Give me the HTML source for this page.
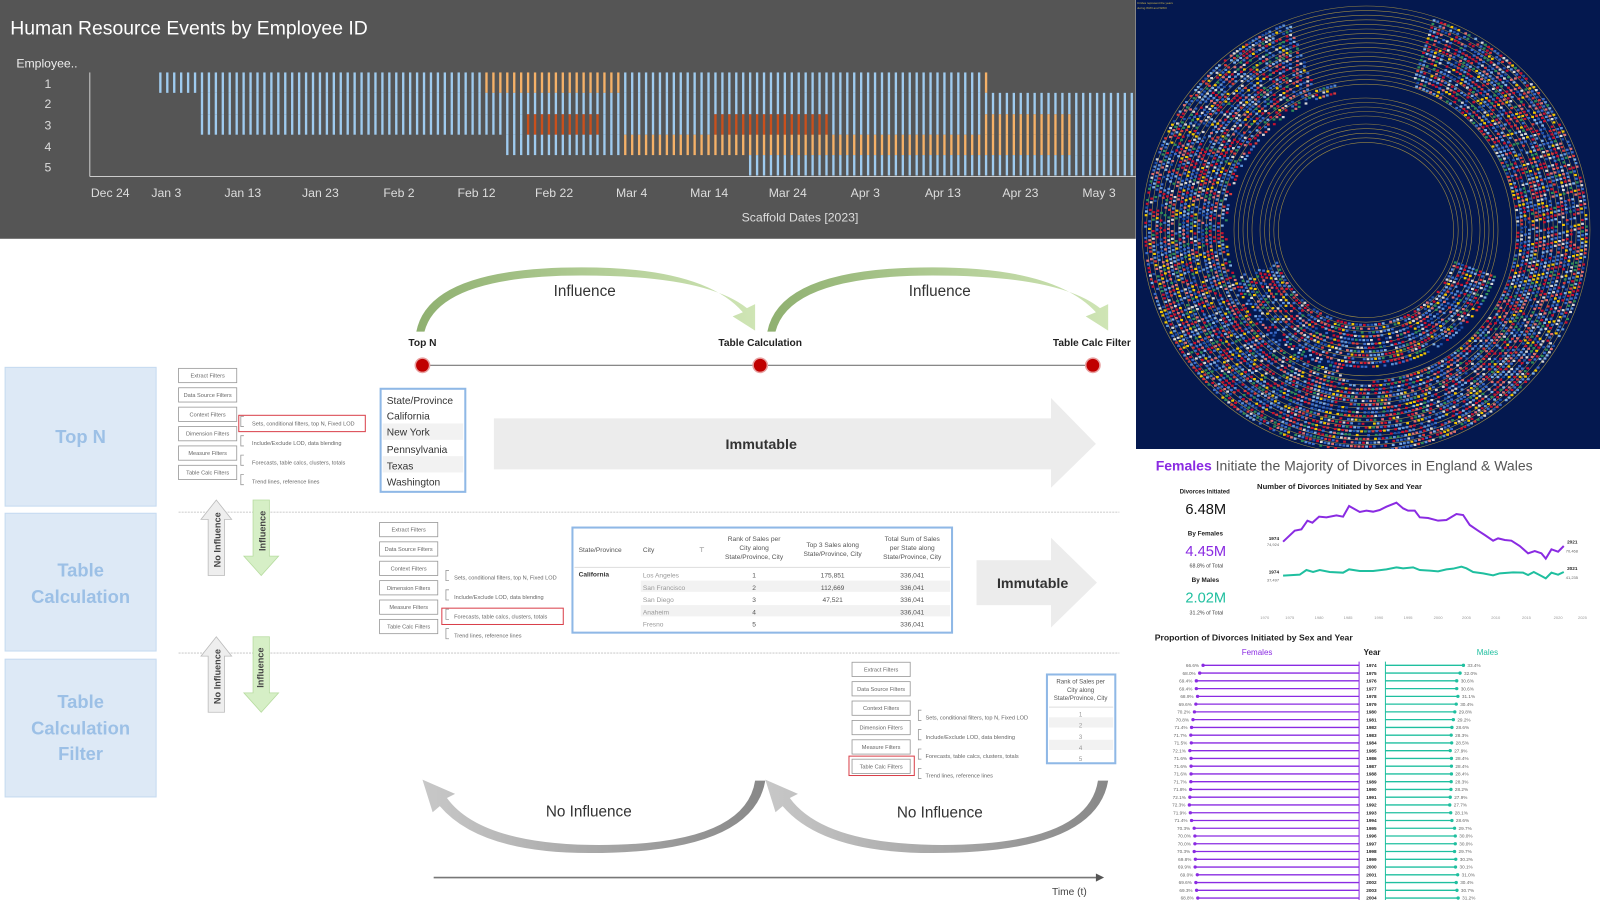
<!DOCTYPE html>
<html><head><meta charset="utf-8"><style>
html,body{margin:0;padding:0;background:#fff;width:1600px;height:900px;overflow:hidden}
svg{display:block}
text{font-family:"Liberation Sans",sans-serif}
</style></head><body>
<svg id="s" width="1600" height="900" viewBox="0 0 1568 882" xmlns="http://www.w3.org/2000/svg">
<defs>
<linearGradient id="gg" x1="0" y1="0" x2="1" y2="0"><stop offset="0" stop-color="#8fb070"/><stop offset="1" stop-color="#cfe5b5"/></linearGradient>
<linearGradient id="gr" x1="0" y1="0" x2="1" y2="0"><stop offset="0" stop-color="#c8c8c8"/><stop offset="1" stop-color="#888"/></linearGradient>
</defs>
<!-- Gantt panel -->
<rect x="0" y="0" width="1113" height="234" fill="#555"/>
<text x="10" y="34" fill="#fff" font-size="19">Human Resource Events by Employee ID</text>
<text x="16" y="66" fill="#eee" font-size="12">Employee..</text>
<g fill="#ddd" font-size="12" text-anchor="middle"><text x="47" y="86">1</text><text x="47" y="106">2</text><text x="47" y="127">3</text><text x="47" y="148">4</text><text x="47" y="168">5</text></g>
<g id="bars"></g>
<line x1="88" y1="71" x2="88" y2="173" stroke="#ccc"/>
<line x1="88" y1="173" x2="1113" y2="173" stroke="#ccc"/>
<g fill="#ddd" font-size="12" text-anchor="middle">
<text x="108" y="193">Dec 24</text><text x="163" y="193">Jan 3</text><text x="238" y="193">Jan 13</text><text x="314" y="193">Jan 23</text><text x="391" y="193">Feb 2</text><text x="467" y="193">Feb 12</text><text x="543" y="193">Feb 22</text><text x="619" y="193">Mar 4</text><text x="695" y="193">Mar 14</text><text x="772" y="193">Mar 24</text><text x="848" y="193">Apr 3</text><text x="924" y="193">Apr 13</text><text x="1000" y="193">Apr 23</text><text x="1077" y="193">May 3</text>
<text x="784" y="217">Scaffold Dates [2023]</text></g>

<!-- circle panel (true coords) -->
<g transform="scale(0.98)">
<rect x="1136" y="0" width="464" height="449" fill="#04184f"/>
<text x="1137" y="4" fill="#c9b24a" font-size="3">Circles represent the years</text>
<text x="1137" y="9" fill="#c9b24a" font-size="3">during WWI and WWII</text>
<g id="rings" fill="none" stroke="#9c8a45" stroke-width="0.6"></g>
<g id="flags"></g>
<rect x="1136" y="449" width="464" height="10" fill="#fff"/>
</g>

<!-- divorce top (zoom3 coords) -->
<g transform="translate(1090.8,431.2) scale(0.3267)">
<text x="128" y="92" font-size="42" fill="#555"><tspan fill="#8a2be2" font-weight="bold">Females</tspan> Initiate the Majority of Divorces in England &amp; Wales</text>
<g text-anchor="middle" font-weight="bold">
<text x="275" y="160" font-size="18" fill="#222">Divorces Initiated</text>
<text x="278" y="222" font-size="44" fill="#111" font-weight="normal">6.48M</text>
<text x="277" y="286" font-size="19" fill="#222">By Females</text>
<text x="278" y="348" font-size="44" fill="#8a2be2" font-weight="normal">4.45M</text>
<text x="280" y="383" font-size="16" fill="#444" font-weight="normal">68.8% of Total</text>
<text x="277" y="426" font-size="19" fill="#222">By Males</text>
<text x="278" y="488" font-size="44" fill="#1fbf9f" font-weight="normal">2.02M</text>
<text x="280" y="523" font-size="16" fill="#444" font-weight="normal">31.2% of Total</text>
</g>
<text x="432" y="147" font-size="23" font-weight="bold" fill="#222">Number of Divorces Initiated by Sex and Year</text>
<polyline fill="none" stroke="#8a2be2" stroke-width="6" points="510,305 545,272 565,268 583,242 598,248 618,230 640,232 670,226 690,230 708,198 740,216 760,212 780,215 800,210 820,200 850,188 870,205 885,212 905,212 920,232 945,234 975,242 1000,240 1030,222 1050,225 1070,255 1095,272 1115,285 1140,302 1155,295 1175,300 1195,302 1220,318 1245,340 1265,333 1285,340 1298,356 1315,328 1335,335 1352,318"/>
<polyline fill="none" stroke="#1fbf9f" stroke-width="6" points="510,407 560,404 580,390 600,396 620,390 650,396 690,398 708,388 740,393 780,393 820,388 850,382 870,385 900,382 920,390 950,392 975,394 1000,388 1020,386 1045,380 1060,385 1080,396 1110,400 1140,406 1160,400 1200,397 1230,398 1245,405 1262,396 1285,408 1298,415 1315,398 1335,404 1352,396"/>
<g font-size="14" fill="#222" text-anchor="end"><text x="498" y="300" font-weight="bold">1974</text><text x="498" y="318" font-size="12" fill="#666">74,924</text><text x="498" y="400" font-weight="bold">1974</text><text x="498" y="425" font-size="12" fill="#666">37,497</text></g>
<g font-size="14" fill="#222"><text x="1362" y="310" font-weight="bold">2021</text><text x="1358" y="337" font-size="12" fill="#666">70,468</text><text x="1362" y="390" font-weight="bold">2021</text><text x="1358" y="417" font-size="12" fill="#666">41,235</text></g>
<g font-size="12" fill="#999" text-anchor="middle"><text x="455" y="537">1970</text><text x="530" y="537">1975</text><text x="618" y="537">1980</text><text x="705" y="537">1985</text><text x="797" y="537">1990</text><text x="885" y="537">1995</text><text x="975" y="537">2000</text><text x="1060" y="537">2005</text><text x="1148" y="537">2010</text><text x="1240" y="537">2015</text><text x="1335" y="537">2020</text><text x="1408" y="537">2025</text></g>
</g>
<!-- divorce bottom (zoom6 coords) -->
<g transform="translate(1090.8,607.6) scale(0.3267)">
<text x="125" y="62" font-size="26" font-weight="bold" fill="#222">Proportion of Divorces Initiated by Sex and Year</text>
<g font-size="24" text-anchor="middle"><text x="432" y="105" fill="#8a2be2">Females</text><text x="777" y="105" fill="#222" font-weight="bold">Year</text><text x="1123" y="105" fill="#1fbf9f">Males</text></g>
<line x1="738" y1="125" x2="738" y2="850" stroke="#8a2be2" stroke-width="3"/>
<line x1="817" y1="125" x2="817" y2="850" stroke="#1fbf9f" stroke-width="3"/>
<g id="prop"></g>
</g>

<!-- main diagram -->
<g font-size="18" font-weight="bold" fill="#9cc0e6" text-anchor="middle">
<rect x="5" y="360" width="148" height="136" fill="#dde9f6" stroke="#c5daf0"/>
<rect x="5" y="503" width="148" height="135" fill="#dde9f6" stroke="#c5daf0"/>
<rect x="5" y="646" width="148" height="135" fill="#dde9f6" stroke="#c5daf0"/>
<text x="79" y="434">Top N</text>
<text x="79" y="565">Table</text><text x="79" y="591">Calculation</text>
<text x="79" y="694">Table</text><text x="79" y="720">Calculation</text><text x="79" y="745">Filter</text>
</g>
<line x1="175" y1="502" x2="1097" y2="502" stroke="#ddd" stroke-width="1.5" stroke-dasharray="2,1"/>
<line x1="175" y1="640" x2="1097" y2="640" stroke="#ddd" stroke-width="1.5" stroke-dasharray="2,1"/>

<!-- green influence arcs -->
<path d="M408,325 Q420,262 570,262 Q690,262 728,306 L718,310 L740,324 L740,298 L732,302 Q692,270 570,270 Q430,270 416,325 Z" fill="url(#gg)"/>
<path d="M752,325 Q764,262 914,262 Q1034,262 1074,306 L1064,310 L1086,324 L1086,298 L1078,302 Q1038,270 914,270 Q774,270 760,325 Z" fill="url(#gg)"/>
<text x="573" y="290" font-size="15" fill="#333" text-anchor="middle">Influence</text>
<text x="921" y="290" font-size="15" fill="#333" text-anchor="middle">Influence</text>
<g font-size="10" font-weight="bold" fill="#222" text-anchor="middle"><text x="414" y="339">Top N</text><text x="745" y="339">Table Calculation</text><text x="1070" y="339">Table Calc Filter</text></g>
<line x1="414" y1="358" x2="1071" y2="358" stroke="#777" stroke-width="1.2"/>
<g fill="#c00000" stroke="#e8a0a0" stroke-width="1.5"><circle cx="414" cy="358" r="7"/><circle cx="745" cy="358" r="7"/><circle cx="1071" cy="358" r="7"/></g>

<!-- filter stack 1 -->
<g transform="translate(175,361)" font-size="5.5" fill="#666">
<g fill="#fff" stroke="#999" stroke-width="0.8"><rect x="0" y="0" width="57" height="14"/><rect x="0" y="19" width="57" height="14"/><rect x="0" y="38" width="57" height="14"/><rect x="0" y="57" width="57" height="14"/><rect x="0" y="76" width="57" height="14"/><rect x="0" y="95" width="57" height="14"/>
<path d="M64,47 h-3 v10 h3 M64,66 h-3 v10 h3 M64,85 h-3 v10 h3 M64,104 h-3 v10 h3" fill="none"/></g>
<g text-anchor="middle"><text x="28.5" y="9">Extract Filters</text><text x="28.5" y="28">Data Source Filters</text><text x="28.5" y="47">Context Filters</text><text x="28.5" y="66">Dimension Filters</text><text x="28.5" y="85">Measure Filters</text><text x="28.5" y="104">Table Calc Filters</text></g>
<text x="72" y="56">Sets, conditional filters, top N, Fixed LOD</text><text x="72" y="75">Include/Exclude LOD, data blending</text><text x="72" y="94">Forecasts, table calcs, clusters, totals</text><text x="72" y="113">Trend lines, reference lines</text>
<rect x="59" y="46" width="124" height="16" fill="none" stroke="#d9404a" stroke-width="1"/>
</g>
<!-- filter stack 2 -->
<g transform="translate(372,512)" font-size="5.5" fill="#666">
<g fill="#fff" stroke="#999" stroke-width="0.8"><rect x="0" y="0" width="57" height="14"/><rect x="0" y="19" width="57" height="14"/><rect x="0" y="38" width="57" height="14"/><rect x="0" y="57" width="57" height="14"/><rect x="0" y="76" width="57" height="14"/><rect x="0" y="95" width="57" height="14"/>
<path d="M68,47 h-3 v10 h3 M68,66 h-3 v10 h3 M68,85 h-3 v10 h3 M68,104 h-3 v10 h3" fill="none"/></g>
<g text-anchor="middle"><text x="28.5" y="9">Extract Filters</text><text x="28.5" y="28">Data Source Filters</text><text x="28.5" y="47">Context Filters</text><text x="28.5" y="66">Dimension Filters</text><text x="28.5" y="85">Measure Filters</text><text x="28.5" y="104">Table Calc Filters</text></g>
<text x="73" y="56">Sets, conditional filters, top N, Fixed LOD</text><text x="73" y="75">Include/Exclude LOD, data blending</text><text x="73" y="94">Forecasts, table calcs, clusters, totals</text><text x="73" y="113">Trend lines, reference lines</text>
<rect x="61" y="84" width="119" height="16" fill="none" stroke="#d9404a" stroke-width="1"/>
</g>
<!-- filter stack 3 -->
<g transform="translate(835,649)" font-size="5.5" fill="#666">
<g fill="#fff" stroke="#999" stroke-width="0.8"><rect x="0" y="0" width="57" height="14"/><rect x="0" y="19" width="57" height="14"/><rect x="0" y="38" width="57" height="14"/><rect x="0" y="57" width="57" height="14"/><rect x="0" y="76" width="57" height="14"/><rect x="0" y="95" width="57" height="14"/>
<path d="M68,47 h-3 v10 h3 M68,66 h-3 v10 h3 M68,85 h-3 v10 h3 M68,104 h-3 v10 h3" fill="none"/></g>
<g text-anchor="middle"><text x="28.5" y="9">Extract Filters</text><text x="28.5" y="28">Data Source Filters</text><text x="28.5" y="47">Context Filters</text><text x="28.5" y="66">Dimension Filters</text><text x="28.5" y="85">Measure Filters</text><text x="28.5" y="104">Table Calc Filters</text></g>
<text x="72" y="56">Sets, conditional filters, top N, Fixed LOD</text><text x="72" y="75">Include/Exclude LOD, data blending</text><text x="72" y="94">Forecasts, table calcs, clusters, totals</text><text x="72" y="113">Trend lines, reference lines</text>
<rect x="-3" y="92" width="64" height="19" fill="none" stroke="#d9404a" stroke-width="1"/>
</g>

<!-- state list -->
<rect x="373" y="381" width="83" height="101" fill="#fff" stroke="#8fb8e6" stroke-width="2"/>
<rect x="375" y="415" width="79" height="16" fill="#f2f2f2"/><rect x="375" y="447" width="79" height="16" fill="#f2f2f2"/>
<g font-size="10" fill="#333"><text x="379" y="396">State/Province</text><text x="379" y="411">California</text><text x="379" y="427">New York</text><text x="379" y="444">Pennsylvania</text><text x="379" y="460">Texas</text><text x="379" y="476">Washington</text></g>

<!-- immutable arrows -->
<path d="M484,410 H1030 V390 L1074,435 L1030,478 V460 H484 Z" fill="#ececec"/>
<text x="746" y="440" font-size="14" font-weight="bold" fill="#333" text-anchor="middle">Immutable</text>
<path d="M957,549 H1030 V527 L1075,571 L1030,615 V593 H957 Z" fill="#ececec"/>
<text x="1012" y="576" font-size="14" font-weight="bold" fill="#333" text-anchor="middle">Immutable</text>

<!-- up/down arrows -->
<g stroke="#bbb" stroke-width="0.8">
<path d="M204,564 V509 H197 L212,490 L227,509 H220 V564 Z" fill="#eee"/>
<path d="M248,490 H264 V545 H273 L256,564 L239,545 H248 Z" fill="#d6efc6" stroke="#b7dca0"/>
<path d="M204,698 V643 H197 L212,624 L227,643 H220 V698 Z" fill="#eee"/>
<path d="M248,624 H264 V679 H273 L256,698 L239,679 H248 Z" fill="#d6efc6" stroke="#b7dca0"/>
</g>
<g font-size="9" font-weight="bold" fill="#444">
<text transform="translate(216,556) rotate(-90)">No Influence</text>
<text transform="translate(260,540) rotate(-90)">Influence</text>
<text transform="translate(216,690) rotate(-90)">No Influence</text>
<text transform="translate(258,674) rotate(-90)">Influence</text>
</g>

<!-- table calc table -->
<rect x="561" y="517" width="372" height="103" fill="#fff" stroke="#8fb8e6" stroke-width="2"/>
<line x1="563" y1="556" x2="931" y2="556" stroke="#ddd"/>
<rect x="628" y="569" width="303" height="11" fill="#f2f2f2"/><rect x="628" y="593" width="303" height="11" fill="#f2f2f2"/>
<g font-size="6.5" fill="#555">
<text x="567" y="541">State/Province</text><text x="630" y="541">City</text><text x="685" y="541">⊤</text>
<text x="567" y="565" font-weight="bold" fill="#333">California</text>
<g fill="#999"><text x="630" y="566">Los Angeles</text><text x="630" y="578">San Francisco</text><text x="630" y="590">San Diego</text><text x="630" y="602">Anaheim</text><text x="630" y="614">Fresno</text></g>
<g text-anchor="middle"><text x="739" y="530">Rank of Sales per</text><text x="739" y="539">City along</text><text x="739" y="548">State/Province, City</text>
<text x="816" y="536">Top 3 Sales along</text><text x="816" y="545">State/Province, City</text>
<text x="894" y="530">Total Sum of Sales</text><text x="894" y="539">per State along</text><text x="894" y="548">State/Province, City</text>
<text x="739" y="566">1</text><text x="739" y="578">2</text><text x="739" y="590">3</text><text x="739" y="602">4</text><text x="739" y="614">5</text>
<text x="816" y="566">175,851</text><text x="816" y="578">112,669</text><text x="816" y="590">47,521</text>
<text x="894" y="566">336,041</text><text x="894" y="578">336,041</text><text x="894" y="590">336,041</text><text x="894" y="602">336,041</text><text x="894" y="614">336,041</text></g>
</g>

<!-- small table -->
<rect x="1026" y="661" width="67" height="87" fill="#fff" stroke="#8fb8e6" stroke-width="2"/>
<line x1="1028" y1="693" x2="1091" y2="693" stroke="#ddd"/>
<rect x="1028" y="703" width="63" height="10" fill="#f2f2f2"/><rect x="1028" y="725" width="63" height="10" fill="#f2f2f2"/>
<g font-size="6" fill="#555" text-anchor="middle"><text x="1059" y="670">Rank of Sales per</text><text x="1059" y="678">City along</text><text x="1059" y="686">State/Province, City</text>
<g fill="#999"><text x="1059" y="702">1</text><text x="1059" y="713">2</text><text x="1059" y="724">3</text><text x="1059" y="735">4</text><text x="1059" y="746">5</text></g></g>

<!-- no influence arcs -->
<path d="M740,765 Q730,830 578,828 Q470,826 438,782 L446,778 L414,764 L424,796 L431,790 Q470,836 578,836 Q738,836 750,765 Z" fill="url(#gr)"/>
<path d="M1076,765 Q1066,830 914,828 Q806,826 774,782 L782,778 L750,764 L760,796 L767,790 Q806,836 914,836 Q1074,836 1086,765 Z" fill="url(#gr)"/>
<text x="577" y="800" font-size="15" fill="#333" text-anchor="middle">No Influence</text>
<text x="921" y="801" font-size="15" fill="#333" text-anchor="middle">No Influence</text>
<line x1="425" y1="860" x2="1076" y2="860" stroke="#777" stroke-width="1.5"/>
<path d="M1082,860 L1074,856 L1074,864 Z" fill="#555"/>
<text x="1048" y="877" font-size="10" fill="#444" text-anchor="middle">Time (t)</text>
</svg>
<script>
var NS="http://www.w3.org/2000/svg";
function el(p,t,a){var e=document.createElementNS(NS,t);for(var k in a)e.setAttribute(k,a[k]);p.appendChild(e);return e;}
var B="#9fcbef",O="#f5b168",D="#c9501c";
var rows=[[71,91,[[156,475,B],[475,607,O],[607,962,B],[962,967,O]]],
[91,112,[[193,1112,B]]],
[112,132,[[193,512,B],[512,586,D],[586,695,B],[695,813,D],[813,965,B],[965,1050,O],[1050,1112,B]]],
[132,152,[[492,610,B],[610,1050,O],[1050,1112,B]]],
[152,172,[[728,1112,B]]]];
var g=document.getElementById("bars");
rows.forEach(function(r){r[2].forEach(function(s){for(var x=156;x<1112;x+=6.8){if(x>=s[0]&&x<s[1])el(g,"rect",{x:x,y:r[0],width:2.3,height:r[1]-r[0],fill:s[2]});}});});
var cx=1366,cy=230,rg=document.getElementById("rings");
var radii=[];for(var i=0;i<18;i++)radii.push(224-i*4.6);for(i=0;i<5;i++)radii.push(132-i*4.5);for(i=0;i<5;i++)radii.push(106-i*4.6);
radii.forEach(function(r){el(rg,"circle",{cx:cx,cy:cy,r:r});});
var seed=7;function rnd(){seed=(seed*16807)%2147483647;return seed/2147483647;}
var cols=["#c8102e","#d8d8d8","#3a6bc8","#7fb0e8","#f2c500","#2e8b57","#d83a3a","#1f4fa8","#e07070","#5a8fd8","#c8102e","#3a6bc8"];
var fg=document.getElementById("flags");
function band(r0,r1,a0,a1,p){for(var r=r0;r<=r1;r+=3.8){var step=3.8/r;for(var a=a0;a<a1;a+=step){if(rnd()<p)continue;var x=cx+r*Math.cos(a),y=cy+r*Math.sin(a);if(y>449)continue;el(fg,"rect",{x:(x-1.4).toFixed(1),y:(y-1.1).toFixed(1),width:2.8,height:2.2,fill:cols[Math.floor(rnd()*cols.length)]});}}}
var d2r=Math.PI/180;
band(152,224,-72*d2r,250*d2r,0.18);
band(95,140,20*d2r,160*d2r,0.2);
band(140,150,100*d2r,260*d2r,0.3);
var F=[66.6,68.0,69.4,69.4,68.9,69.6,70.2,70.8,71.4,71.7,71.5,72.1,71.6,71.6,71.6,71.7,71.8,72.1,72.3,71.9,71.4,70.3,70.0,70.0,70.3,69.8,69.9,69.0,69.6,69.3,68.8];
var pg=document.getElementById("prop");
F.forEach(function(f,i){var y=136+i*23.27;var fx=270-(f-66.6)*7.2;var m=100-f;var mx=1051-(33.4-m)*7.2;
el(pg,"line",{x1:fx,y1:y,x2:738,y2:y,stroke:"#8a2be2","stroke-width":4});
el(pg,"circle",{cx:fx,cy:y,r:5,fill:"#8a2be2"});
el(pg,"line",{x1:817,y1:y,x2:mx,y2:y,stroke:"#1fbf9f","stroke-width":4});
el(pg,"circle",{cx:mx,cy:y,r:5,fill:"#1fbf9f"});
var t=el(pg,"text",{x:fx-12,y:y+5,"font-size":14,fill:"#666","text-anchor":"end"});t.textContent=f.toFixed(1)+"%";
t=el(pg,"text",{x:775,y:y+5,"font-size":14,fill:"#222","font-weight":"bold","text-anchor":"middle"});t.textContent=1974+i;
t=el(pg,"text",{x:mx+12,y:y+5,"font-size":14,fill:"#666"});t.textContent=m.toFixed(1)+"%";});
</script>
</body></html>
